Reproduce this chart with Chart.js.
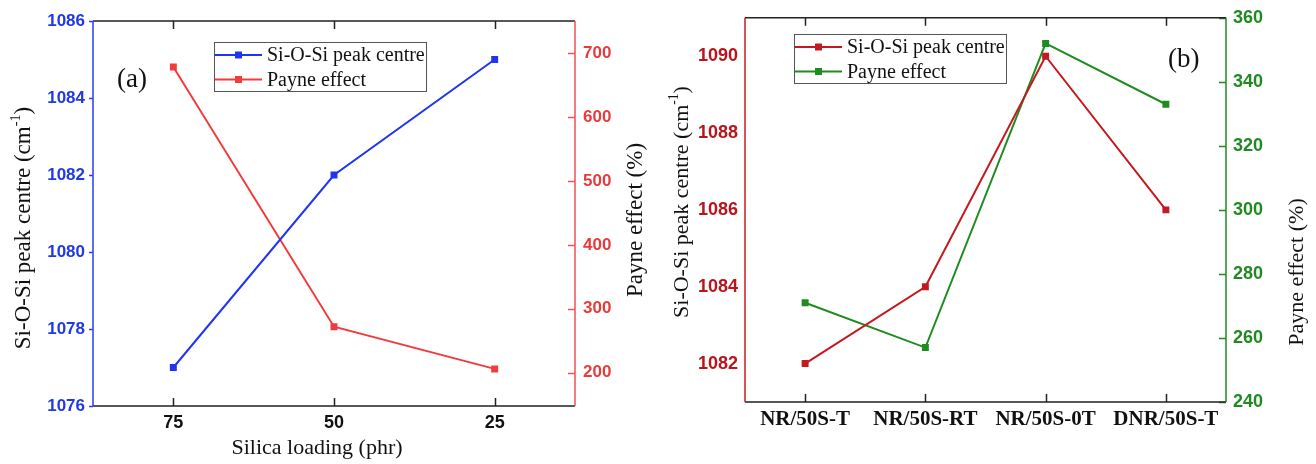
<!DOCTYPE html>
<html>
<head>
<meta charset="utf-8">
<script src="https://cdn.jsdelivr.net/npm/chart.js@4.4.0/dist/chart.umd.min.js"></script>
<style>
  html, body { margin: 0; padding: 0; background: #fff; }
  #wrap { position: relative; width: 1316px; height: 464px; }
  #boxA { position: absolute; left: 0; top: 0; width: 655px; height: 464px; }
  #boxB { position: absolute; left: 655px; top: 0; width: 661px; height: 464px; }
</style>
</head>
<body>
<div id="wrap">
  <div id="boxA"><canvas id="chartA"></canvas></div>
  <div id="boxB"><canvas id="chartB"></canvas></div>
</div>
<script>
// (a) silica loading series
const loadingLabels = ['75', '50', '25'];
const peakA = [1077, 1082, 1085];
const payneA = [678, 272, 206];
const peakTicksA = [1076, 1078, 1080, 1082, 1084, 1086];
const payneTicksA = [200, 300, 400, 500, 600, 700];

// (b) sample series
const sampleLabels = ['NR/50S-T', 'NR/50S-RT', 'NR/50S-0T', 'DNR/50S-T'];
const peakB = [1082, 1084, 1090, 1086];
const payneB = [271, 257, 352, 333];
const peakTicksB = [1082, 1084, 1086, 1088, 1090];
const payneTicksB = [240, 260, 280, 300, 320, 340, 360];

const SERIF = '"Liberation Serif", "Times New Roman", serif';
const SANS = '"Liberation Sans", Arial, sans-serif';

function drawVTitle(ctx, parts, cx, cy, size) {
  ctx.save();
  ctx.translate(cx, cy);
  ctx.rotate(-Math.PI / 2);
  ctx.fillStyle = '#111';
  ctx.textBaseline = 'middle';
  ctx.textAlign = 'left';
  let total = 0;
  const widths = parts.map(p => {
    ctx.font = (p.sup ? size * 0.62 : size) + 'px ' + SERIF;
    const w = ctx.measureText(p.t).width;
    total += w;
    return w;
  });
  let x = -total / 2;
  parts.forEach((p, i) => {
    ctx.font = (p.sup ? size * 0.62 : size) + 'px ' + SERIF;
    ctx.fillText(p.t, x, p.sup ? -size * 0.33 : 0);
    x += widths[i];
  });
  ctx.restore();
}

// frame, inward ticks, titles, legend and panel letter
const panelPlugin = {
  id: 'panel',
  afterDatasetsDraw(chart, args, o) {
    const ctx = chart.ctx;
    const a = chart.chartArea;
    const xs = chart.scales.x, yl = chart.scales.y, yr = chart.scales.y2;
    ctx.save();
    ctx.lineWidth = 1.5;
    // ticks
    ctx.strokeStyle = '#222';
    ctx.beginPath();
    xs.ticks.forEach((t, i) => {
      const px = Math.round(xs.getPixelForTick(i)) + 0.5;
      ctx.moveTo(px, a.bottom); ctx.lineTo(px, a.bottom - 8);
      ctx.moveTo(px, a.top); ctx.lineTo(px, a.top + 8);
    });
    ctx.stroke();
    ctx.strokeStyle = o.leftColor;
    ctx.beginPath();
    if (o.leftTickOut) {
      yl.ticks.forEach((t, i) => {
        const py = Math.round(yl.getPixelForTick(i)) + 0.5;
        ctx.moveTo(a.left, py); ctx.lineTo(a.left - o.leftTickOut, py);
      });
    }
    ctx.stroke();
    ctx.strokeStyle = o.rightColor;
    ctx.beginPath();
    yr.ticks.forEach((t, i) => {
      const py = Math.round(yr.getPixelForTick(i)) + 0.5;
      ctx.moveTo(a.right, py); ctx.lineTo(a.right - 7, py);
    });
    ctx.stroke();
    // frame
    ctx.strokeStyle = '#222';
    ctx.beginPath();
    ctx.moveTo(a.left, a.top); ctx.lineTo(a.right, a.top);
    ctx.moveTo(a.left, a.bottom); ctx.lineTo(a.right, a.bottom);
    ctx.stroke();
    ctx.strokeStyle = o.leftColor;
    ctx.beginPath(); ctx.moveTo(a.left, a.top); ctx.lineTo(a.left, a.bottom); ctx.stroke();
    ctx.strokeStyle = o.rightColor;
    ctx.beginPath(); ctx.moveTo(a.right, a.top); ctx.lineTo(a.right, a.bottom); ctx.stroke();

    // axis titles
    drawVTitle(ctx, [{t: 'Si-O-Si peak centre (cm'}, {t: '-1', sup: true}, {t: ')'}], o.leftTitle[0], o.leftTitle[1], o.titleSize);
    drawVTitle(ctx, [{t: 'Payne effect (%)'}], o.rightTitle[0], o.rightTitle[1], o.titleSize);
    if (o.xTitle) {
      ctx.fillStyle = '#111';
      ctx.font = o.titleSize - 1 + 'px ' + SERIF;
      ctx.textAlign = 'center';
      ctx.textBaseline = 'middle';
      ctx.fillText(o.xTitle.text, o.xTitle.x, o.xTitle.y);
    }

    // panel letter
    ctx.fillStyle = '#111';
    ctx.font = '27px ' + SERIF;
    ctx.textAlign = 'left';
    ctx.textBaseline = 'middle';
    ctx.fillText(o.letter.text, o.letter.x, o.letter.y);

    // legend
    const L = o.legend;
    ctx.fillStyle = '#fff';
    ctx.fillRect(L.x, L.y, L.w, L.h);
    ctx.strokeStyle = '#555';
    ctx.lineWidth = 1;
    ctx.strokeRect(L.x + 0.5, L.y + 0.5, L.w, L.h);
    chart.data.datasets.forEach((ds, i) => {
      const cy = L.y + 13 + i * 24.5;
      ctx.strokeStyle = ds.borderColor;
      ctx.lineWidth = 2;
      ctx.beginPath(); ctx.moveTo(L.x + 1, cy); ctx.lineTo(L.x + 48, cy); ctx.stroke();
      ctx.fillStyle = ds.borderColor;
      ctx.fillRect(L.x + 21, cy - 3.5, 7, 7);
      ctx.fillStyle = '#111';
      ctx.font = '20px ' + SERIF;
      ctx.textBaseline = 'middle';
      ctx.fillText(ds.label, L.x + 53, cy + 1);
    });
    ctx.restore();
  }
};

function makePanel(id, cfg) {
  return new Chart(document.getElementById(id).getContext('2d'), {
    type: 'line',
    data: {
      labels: cfg.labels,
      datasets: [
        {
          label: 'Si-O-Si peak centre', data: cfg.peak, yAxisID: 'y',
          borderColor: cfg.peakColor, backgroundColor: cfg.peakColor,
          borderWidth: 2, pointStyle: 'rect', pointRadius: 3.5, tension: 0
        },
        {
          label: 'Payne effect', data: cfg.payne, yAxisID: 'y2',
          borderColor: cfg.payneColor, backgroundColor: cfg.payneColor,
          borderWidth: 2, pointStyle: 'rect', pointRadius: 3.5, tension: 0
        }
      ]
    },
    options: {
      responsive: true,
      maintainAspectRatio: false,
      animation: false,
      layout: { padding: { top: cfg.top, left: 0, right: 0, bottom: 0 } },
      scales: {
        x: {
          type: 'category',
          offset: true,
          grid: { display: false, drawTicks: false },
          border: { display: false },
          ticks: { color: '#111', padding: cfg.xPad, font: cfg.xFont },
          afterFit: s => { s.height = cfg.xHeight; }
        },
        y: {
          position: 'left',
          min: cfg.peakRange[0], max: cfg.peakRange[1],
          grid: { display: false, drawTicks: false },
          border: { display: false },
          ticks: {
            color: cfg.peakTickColor, padding: cfg.yPad,
            font: { family: SANS, size: cfg.ySize, weight: 'bold' },
            callback: v => String(v)
          },
          afterBuildTicks: s => { s.ticks = cfg.peakTicks.map(v => ({ value: v })); },
          afterFit: s => { s.width = cfg.leftW; }
        },
        y2: {
          position: 'right',
          min: cfg.payneRange[0], max: cfg.payneRange[1],
          grid: { display: false, drawTicks: false },
          border: { display: false },
          ticks: {
            color: cfg.payneTickColor, padding: cfg.yPad,
            font: { family: SANS, size: cfg.ySize, weight: 'bold' },
            callback: v => String(v)
          },
          afterBuildTicks: s => { s.ticks = cfg.payneTicks.map(v => ({ value: v })); },
          afterFit: s => { s.width = cfg.rightW; }
        }
      },
      plugins: {
        legend: { display: false },
        tooltip: { enabled: false },
        panel: cfg.panel
      }
    },
    plugins: [panelPlugin]
  });
}

makePanel('chartA', {
  labels: loadingLabels, peak: peakA, payne: payneA,
  peakColor: '#1f35f2', payneColor: '#f23c3c',
  peakTickColor: '#2038e6', payneTickColor: '#e83c3c',
  peakRange: [1076, 1086], payneRange: [148, 750],
  peakTicks: peakTicksA, payneTicks: payneTicksA,
  top: 21, xHeight: 58, leftW: 93, rightW: 80, xPad: 6, yPad: 8, ySize: 17,
  xFont: { family: SANS, size: 18, weight: 'bold' },
  panel: {
    leftColor: '#2a3cf0', rightColor: '#f05050', leftTickOut: 4, titleSize: 23,
    leftTitle: [24, 228], rightTitle: [636, 220],
    xTitle: { text: 'Silica loading (phr)', x: 317, y: 448 },
    letter: { text: '(a)', x: 117, y: 80 },
    legend: { x: 214, y: 42, w: 212, h: 49 }
  }
});

makePanel('chartB', {
  labels: sampleLabels, peak: peakB, payne: payneB,
  peakColor: '#c41a1f', payneColor: '#1f8c1f',
  peakTickColor: '#b8141b', payneTickColor: '#208a20',
  peakRange: [1081, 1091], payneRange: [240, 360],
  peakTicks: peakTicksB, payneTicks: payneTicksB,
  top: 16, xHeight: 62, leftW: 90, rightW: 90, xPad: 5, yPad: 7, ySize: 18,
  xFont: { family: SERIF, size: 21, weight: 'bold' },
  panel: {
    leftColor: '#c41a1f', rightColor: '#1f8c1f', leftTickOut: 0, titleSize: 22,
    leftTitle: [27, 202], rightTitle: [642, 272],
    xTitle: null,
    letter: { text: '(b)', x: 513, y: 60 },
    legend: { x: 139, y: 34, w: 212, h: 49 }
  }
});
</script>
</body>
</html>
